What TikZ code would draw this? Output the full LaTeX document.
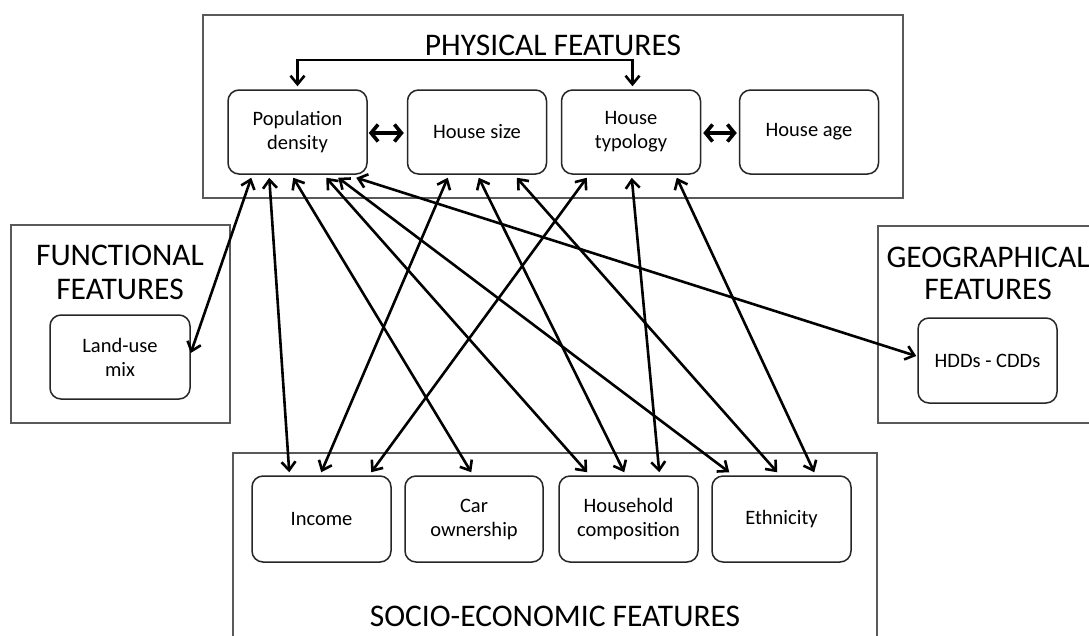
\documentclass[tikz,border=0pt]{standalone}
\usepackage{fontspec}
\setmainfont{Carlito}
\usetikzlibrary{arrows.meta,calc}
\begin{document}
\begin{tikzpicture}[x=1pt,y=-1pt,
  obox/.style={draw=black!65, line width=1.8pt, inner sep=0pt, fill=none},
  ibox/.style={draw=black!85, line width=1.5pt, rounded corners=11pt, inner sep=0pt,
    align=center, font=\fontsize{20.5}{24}\selectfont, minimum width=139pt, minimum height=84pt},
  ttl/.style={font=\fontsize{31.5}{34}\selectfont, align=center, inner sep=0pt},
  barb/.tip={Straight Barb[length=8.5pt,width=14pt]},
  link/.style={line width=2.6pt, barb-barb},
  biglink/.style={line width=3.6pt, {Straight Barb[length=7pt,width=17pt]}-{Straight Barb[length=7pt,width=17pt]}}
]
\clip (0,0) rectangle (1089,635);
\fill[white] (0,0) rectangle (1089,635);

% outer group boxes
\node[obox, minimum width=700pt, minimum height=183pt] (phys) at (553,106.5) {};
\node[obox, minimum width=219pt, minimum height=198pt] (func) at (120.5,324) {};
\node[obox, minimum width=222pt, minimum height=197pt] (geo) at (989,324.5) {};
\node[obox, minimum width=644pt, minimum height=200pt] (soc) at (555,553) {};

% titles
\node[ttl, anchor=base] (tphys) at (553,55) {PHYSICAL FEATURES};
\node[ttl, anchor=base] (tfunc1) at (120,265) {FUNCTIONAL};
\node[ttl, anchor=base] (tfunc2) at (120,299) {FEATURES};
\node[ttl, anchor=base] (tgeo1) at (988,267) {GEOGRAPHICAL};
\node[ttl, anchor=base] (tgeo2) at (988,299) {FEATURES};
\node[ttl, anchor=base] (tsoc) at (555,626) {SOCIO-ECONOMIC FEATURES};

% inner boxes
\node[ibox] (pd) at (297.5,132) {Population\\density};
\node[ibox] (hs) at (477,132) {House size};
\node[ibox] (ht) at (631,132) {House\\typology};
\node[ibox] (ha) at (809,132) {House age};
\node[ibox, minimum width=140pt] (lu) at (120,357) {Land-use\\mix};
\node[ibox, minimum height=85pt] (hdd) at (987.5,360.5) {HDDs - CDDs};
\node[ibox, minimum height=86pt] (inc) at (321.5,519) {Income};
\node[ibox, minimum width=138pt, minimum height=86pt] (car) at (474,519) {Car\\ownership};
\node[ibox, minimum height=86pt] (hc) at (628.5,519) {Household\\composition};
\node[ibox, minimum height=86pt] (eth) at (781.5,519) {Ethnicity};

% bracket between population density and house typology
\coordinate (brk) at (0,60);
\draw[link] ([yshift=3pt]pd.north) -- (pd.north |- brk) -- ([xshift=1.5pt]ht.north |- brk) -- ([xshift=1.5pt,yshift=3pt]ht.north);

% short double arrows
\draw[biglink] ([xshift=1pt,yshift=-1pt]pd.east) -- ([xshift=-3pt,yshift=-1pt]hs.west);
\draw[biglink] ([xshift=2pt,yshift=-1pt]ht.east) -- ([xshift=-2pt,yshift=-1pt]ha.west);

% from population density
\draw[link] ([xshift=24pt,yshift=-3pt]pd.south west) -- ([yshift=4pt]lu.east);
\draw[link] ([xshift=42pt,yshift=-3pt]pd.south west) -- ([xshift=38pt,yshift=3pt]inc.north west);
\draw[link] ([xshift=66pt,yshift=-3pt]pd.south west) -- ([xshift=67pt,yshift=3pt]car.north west);
\draw[link] ([xshift=99pt,yshift=-3pt]pd.south west) -- ([xshift=29pt,yshift=3pt]hc.north west);
\draw[link] ([xshift=111pt,yshift=-3pt]pd.south west) -- ([xshift=18pt,yshift=3pt]eth.north west);
\draw[link] ([xshift=129pt,yshift=-3pt]pd.south west) -- ([xshift=-1pt,yshift=4.5pt]hdd.west);

% from house size
\draw[link] ([xshift=41pt,yshift=-3pt]hs.south west) -- ([xshift=70pt,yshift=3pt]inc.north west);
\draw[link] ([xshift=72pt,yshift=-3pt]hs.south west) -- ([xshift=66pt,yshift=3pt]hc.north west);
\draw[link] ([xshift=110pt,yshift=-3pt]hs.south west) -- ([xshift=66pt,yshift=3pt]eth.north west);

% from house typology
\draw[link] ([xshift=26pt,yshift=-3pt]ht.south west) -- ([xshift=120pt,yshift=3pt]inc.north west);
\draw[link] ([xshift=71pt,yshift=-3pt]ht.south west) -- ([xshift=101pt,yshift=3pt]hc.north west);
\draw[link] ([xshift=116pt,yshift=-3pt]ht.south west) -- ([xshift=103pt,yshift=3pt]eth.north west);
\end{tikzpicture}
\end{document}
